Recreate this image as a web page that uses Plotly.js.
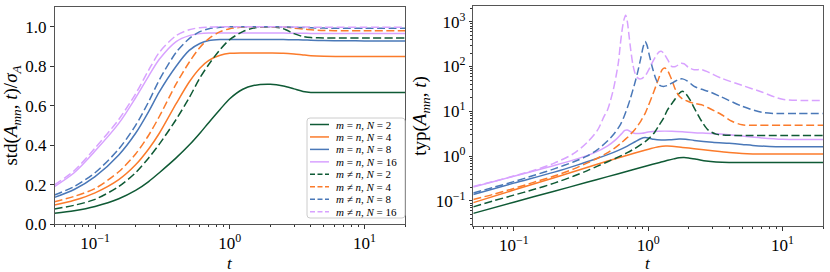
<!DOCTYPE html>
<html><head><meta charset="utf-8">
<script src="https://cdn.plot.ly/plotly-3.0.1.min.js"></script>
<style>html,body{margin:0;padding:0;background:#fff}#chart{width:830px;height:272px}</style>
</head><body><div id="chart"></div>
<script>
// ---------- data ----------
const seriesLabels = [
  "<i>m</i> = <i>n</i>, <i>N</i> = 2", "<i>m</i> = <i>n</i>, <i>N</i> = 4",
  "<i>m</i> = <i>n</i>, <i>N</i> = 8", "<i>m</i> = <i>n</i>, <i>N</i> = 16",
  "<i>m</i> ≠ <i>n</i>, <i>N</i> = 2", "<i>m</i> ≠ <i>n</i>, <i>N</i> = 4",
  "<i>m</i> ≠ <i>n</i>, <i>N</i> = 8", "<i>m</i> ≠ <i>n</i>, <i>N</i> = 16"
];
const xTickVals = [0.1, 1, 10];
const xTickText = ["10<sup>−1</sup>", "10<sup>0</sup>", "10<sup>1</sup>"];
const leftYTickVals = [0, 0.2, 0.4, 0.6, 0.8, 1.0];
const leftYTickText = ["0.0", "0.2", "0.4", "0.6", "0.8", "1.0"];
const rightYTickVals = [0.1, 1, 10, 100, 1000];
const rightYTickText = ["10<sup>−1</sup>", "10<sup>0</sup>", "10<sup>1</sup>", "10<sup>2</sup>", "10<sup>3</sup>"];

// left panel: std(A_mn,t)/sigma_A
const tLeft   = [0.05,0.07,0.1,0.15,0.2,0.25,0.3,0.4,0.5,0.6,0.7,0.85,1.0,1.25,1.5,2,2.5,3,3.5,4,5,7,10,20];
const stdEqN2  = [0.054,0.067,0.089,0.128,0.17,0.215,0.26,0.335,0.40,0.46,0.515,0.582,0.635,0.683,0.702,0.708,0.70,0.685,0.672,0.667,0.667,0.667,0.667,0.667];
const stdEqN4  = [0.096,0.12,0.158,0.225,0.30,0.38,0.46,0.61,0.72,0.79,0.83,0.855,0.865,0.867,0.867,0.867,0.866,0.862,0.857,0.853,0.85,0.849,0.849,0.849];
const stdEqN8  = [0.135,0.175,0.24,0.35,0.46,0.57,0.67,0.80,0.88,0.915,0.93,0.935,0.935,0.935,0.935,0.935,0.935,0.934,0.933,0.932,0.93,0.929,0.928,0.928];
const stdEqN16 = [0.19,0.26,0.37,0.51,0.64,0.75,0.835,0.925,0.955,0.965,0.968,0.968,0.968,0.968,0.968,0.968,0.968,0.967,0.967,0.966,0.966,0.966,0.966,0.966];
const stdNeN2  = [0.076,0.095,0.125,0.19,0.26,0.335,0.405,0.53,0.64,0.74,0.81,0.885,0.935,0.975,0.993,1.0,0.99,0.965,0.95,0.945,0.943,0.943,0.943,0.943];
const stdNeN4  = [0.113,0.14,0.18,0.265,0.355,0.45,0.545,0.71,0.82,0.895,0.94,0.975,0.99,0.998,1.0,1.0,0.998,0.993,0.988,0.985,0.981,0.98,0.98,0.98];
const stdNeN8  = [0.147,0.19,0.26,0.38,0.50,0.62,0.73,0.87,0.94,0.975,0.99,0.997,1.0,1.0,1.0,1.0,0.999,0.997,0.996,0.995,0.993,0.992,0.992,0.992];
const stdNeN16 = [0.198,0.27,0.385,0.53,0.66,0.78,0.87,0.955,0.985,0.995,0.998,1.0,1.0,1.0,1.0,1.0,0.999,0.999,0.998,0.998,0.997,0.997,0.997,0.997];

// right panel: typ(A_mn,t)
const tTypEqN2  = [0.05,0.1,0.2,0.35,0.5,0.7,1.0,1.2,1.4,1.55,1.7,1.85,2.0,2.3,2.7,3.2,4,6,10,20];
const typEqN2   = [0.053,0.094,0.165,0.261,0.35,0.461,0.618,0.716,0.81,0.87,0.92,0.93,0.91,0.85,0.78,0.74,0.72,0.72,0.72,0.72];
const tTypEqN4  = [0.05,0.1,0.2,0.35,0.5,0.7,0.9,1.05,1.2,1.35,1.5,1.8,2.2,3,4,5,6,10,20];
const typEqN4   = [0.092,0.175,0.33,0.56,0.78,1.05,1.3,1.48,1.62,1.68,1.67,1.57,1.47,1.32,1.2,1.14,1.12,1.12,1.12];
const tTypEqN8  = [0.05,0.1,0.2,0.3,0.4,0.5,0.6,0.7,0.8,0.88,0.95,1.02,1.1,1.25,1.45,1.7,1.9,2.2,3,4,5,6,8,10,20];
const typEqN8   = [0.14,0.25,0.44,0.64,0.85,1.08,1.35,1.68,2.1,2.45,2.6,2.52,2.38,2.3,2.33,2.4,2.38,2.25,2.05,1.93,1.83,1.74,1.65,1.62,1.62];
const tTypEqN16 = [0.05,0.1,0.2,0.3,0.4,0.5,0.58,0.63,0.67,0.7,0.74,0.8,0.9,1.0,1.2,1.5,1.8,2.2,3,4,5,7,10,14,20];
const typEqN16  = [0.205,0.355,0.62,0.88,1.2,1.7,2.4,3.1,3.75,3.85,3.5,3.2,3.25,3.45,3.6,3.6,3.5,3.35,3.2,3.0,2.8,2.55,2.38,2.35,2.35];
const tTypNeN2  = [0.05,0.07,0.1,0.14,0.2,0.28,0.35,0.42,0.5,0.62,0.7,0.8,0.88,0.95,1.0,1.1,1.2,1.3,1.4,1.55,1.7,1.8,1.9,2.05,2.2,2.5,2.8,3.2,3.6,5,10,20];
const typNeN2   = [0.074,0.1,0.135,0.18,0.25,0.36,0.47,0.6,0.75,1.0,1.2,1.5,1.8,2.1,2.4,3.2,4.8,7,11,17,25,28,25,18,12,6,3.8,3.1,2.95,2.9,2.9,2.9];
const tTypNeN4  = [0.05,0.07,0.1,0.14,0.2,0.28,0.35,0.42,0.5,0.56,0.62,0.7,0.8,0.88,0.95,1.0,1.1,1.2,1.27,1.33,1.4,1.5,1.6,1.7,1.8,1.95,2.2,2.5,2.8,3.5,4.2,5,6,10,20];
const typNeN4   = [0.108,0.14,0.19,0.26,0.36,0.52,0.7,0.9,1.2,1.5,1.9,2.6,4,6,9,13,27,55,85,93,80,50,30,22,19,17,15,14,12,8.5,6,5,4.9,4.9,4.9];
const tTypNeN8  = [0.05,0.07,0.1,0.14,0.2,0.28,0.35,0.42,0.5,0.56,0.62,0.66,0.7,0.74,0.8,0.84,0.88,0.92,0.95,0.98,1.02,1.08,1.15,1.22,1.3,1.4,1.55,1.7,1.8,1.95,2.2,2.5,2.8,3.5,5,7,8.5,10,20];
const typNeN8   = [0.151,0.2,0.27,0.37,0.52,0.75,1.0,1.4,2.2,3.2,5.0,7.5,12,20,45,80,150,280,360,300,180,90,50,38,36,38,45,52,53,48,36,31,28,21,13,9.5,9,9,9];
const tTypNeN16 = [0.05,0.07,0.1,0.14,0.2,0.28,0.35,0.42,0.47,0.5,0.55,0.6,0.62,0.64,0.66,0.68,0.7,0.72,0.74,0.77,0.8,0.84,0.88,0.95,1.0,1.1,1.2,1.25,1.3,1.4,1.5,1.6,1.75,1.85,2.0,2.2,2.5,2.8,3.5,5,7,10,14,20];
const typNeN16  = [0.21,0.27,0.36,0.48,0.7,1.15,2.0,3.8,7.7,11,30,120,300,650,1100,1400,1000,500,250,110,70,55,53,62,80,140,210,220,200,140,100,100,118,115,95,85,85,75,55,38,27,18.5,17.5,17.5];

// ---------- styling ----------
const colors = ["#0f5a35", "#fb7b2b", "#4a78b8", "#d8a2ff"];
const dashStyle = "8px,3.5px";
const FONT = "Liberation Serif";

const leftY = [stdEqN2, stdEqN4, stdEqN8, stdEqN16, stdNeN2, stdNeN4, stdNeN8, stdNeN16];
const rightX = [tTypEqN2, tTypEqN4, tTypEqN8, tTypEqN16, tTypNeN2, tTypNeN4, tTypNeN8, tTypNeN16];
const rightY = [typEqN2, typEqN4, typEqN8, typEqN16, typNeN2, typNeN4, typNeN8, typNeN16];

const traces = [];
for (let i = 0; i < 8; i++) {
  const line = {color: colors[i % 4], width: 1.5, dash: i < 4 ? "solid" : dashStyle, shape: "spline", smoothing: 0.8};
  traces.push({x: tLeft, y: leftY[i], type: "scatter", mode: "lines", line, name: seriesLabels[i], xaxis: "x", yaxis: "y", showlegend: false});
}
for (let i = 0; i < 8; i++) {
  const line = {color: colors[i % 4], width: 1.5, dash: i < 4 ? "solid" : dashStyle, shape: "spline", smoothing: 0.8};
  traces.push({x: rightX[i], y: rightY[i], type: "scatter", mode: "lines", line, name: seriesLabels[i], xaxis: "x2", yaxis: "y2", showlegend: false});
}

function minorLog(d0, d1) {
  const v = [];
  for (let d = d0; d <= d1; d++) for (let k = 2; k <= 9; k++) v.push(k * Math.pow(10, d));
  return v;
}
const W = 830, H = 272;
const px = x => x / W, py = y => 1 - y / H;

const axisCommon = {
  showline: true, mirror: true, linecolor: "#555", linewidth: 1,
  ticks: "outside", ticklen: 3.5, tickwidth: 1, tickcolor: "#333",
  showgrid: false, zeroline: false,
  tickfont: {family: FONT, size: 17, color: "#000"}
};
const xaxisCommon = Object.assign({}, axisCommon, {
  type: "log", range: [Math.log10(0.05), Math.log10(20)],
  tickmode: "array", tickvals: xTickVals, ticktext: xTickText,
  minor: {tickmode: "array", tickvals: minorLog(-2, 1), ticks: "outside", ticklen: 2, tickcolor: "#333"}
});

// custom compact legend (rounded box)
const legShapes = [], legAnn = [];
const legX0 = 307, legX1 = 405, legY0 = 118, legY1 = 218, r = 3;
const boxPath = [
  `M${px(legX0 + r)},${py(legY0)}`, `L${px(legX1 - r)},${py(legY0)}`,
  `Q${px(legX1)},${py(legY0)} ${px(legX1)},${py(legY0 + r)}`, `L${px(legX1)},${py(legY1 - r)}`,
  `Q${px(legX1)},${py(legY1)} ${px(legX1 - r)},${py(legY1)}`, `L${px(legX0 + r)},${py(legY1)}`,
  `Q${px(legX0)},${py(legY1)} ${px(legX0)},${py(legY1 - r)}`, `L${px(legX0)},${py(legY0 + r)}`,
  `Q${px(legX0)},${py(legY0)} ${px(legX0 + r)},${py(legY0)}`, "Z"
].join(" ");
legShapes.push({type: "path", xref: "paper", yref: "paper", path: boxPath,
  line: {color: "#cccccc", width: 1}, fillcolor: "rgba(255,255,255,0.85)", layer: "above"});
for (let i = 0; i < 8; i++) {
  const yy = 124.5 + i * 12.45;
  legShapes.push({type: "line", xref: "paper", yref: "paper", x0: px(310), x1: px(329), y0: py(yy), y1: py(yy),
    line: {color: colors[i % 4], width: 1.5, dash: i < 4 ? "solid" : "5px,2.5px"}, layer: "above"});
  legAnn.push({xref: "paper", yref: "paper", x: px(334), y: py(yy), xanchor: "left", yanchor: "middle",
    text: seriesLabels[i], showarrow: false, font: {family: FONT, size: 11, color: "#000"}});
}
// x-axis titles ("t") placed just below the tick labels
["x domain", "x2 domain"].forEach(ref => {
  legAnn.push({xref: ref, yref: "paper", x: 0.5, y: py(253), xanchor: "center", yanchor: "top",
    text: "<i>t</i>", showarrow: false, borderpad: 0, font: {family: FONT, size: 17, color: "#000"}});
});

const layout = {
  width: W, height: H,
  margin: {l: 0, r: 0, t: 0, b: 0},
  paper_bgcolor: "#fff", plot_bgcolor: "#fff",
  showlegend: false,
  font: {family: FONT, size: 17, color: "#000"},
  xaxis: Object.assign({}, xaxisCommon, {domain: [px(54.5), px(405)], anchor: "y"}),
  yaxis: Object.assign({}, axisCommon, {
    domain: [py(224), py(7)], range: [0, 1.1], anchor: "x",
    tickmode: "array", tickvals: leftYTickVals, ticktext: leftYTickText,
    title: {text: "std(<i>A</i><sub><i>mn</i></sub>, <i>t</i>)/<i>σ</i><sub><i>A</i></sub>", font: {family: FONT, size: 19, color: "#000"}, standoff: 4}
  }),
  xaxis2: Object.assign({}, xaxisCommon, {domain: [px(473.3), px(823)], anchor: "y2"}),
  yaxis2: Object.assign({}, axisCommon, {
    type: "log", domain: [py(226), py(6)], range: [-1.558, 3.35], anchor: "x2",
    tickmode: "array", tickvals: rightYTickVals, ticktext: rightYTickText,
    minor: {tickmode: "array", tickvals: minorLog(-2, 3), ticks: "outside", ticklen: 2, tickcolor: "#333"},
    title: {text: "typ(<i>A</i><sub><i>mn</i></sub>, <i>t</i>)", font: {family: FONT, size: 19, color: "#000"}, standoff: 4}
  }),
  shapes: legShapes,
  annotations: legAnn
};
Plotly.newPlot("chart", traces, layout, {displayModeBar: false, staticPlot: true});
</script>
</body></html>
